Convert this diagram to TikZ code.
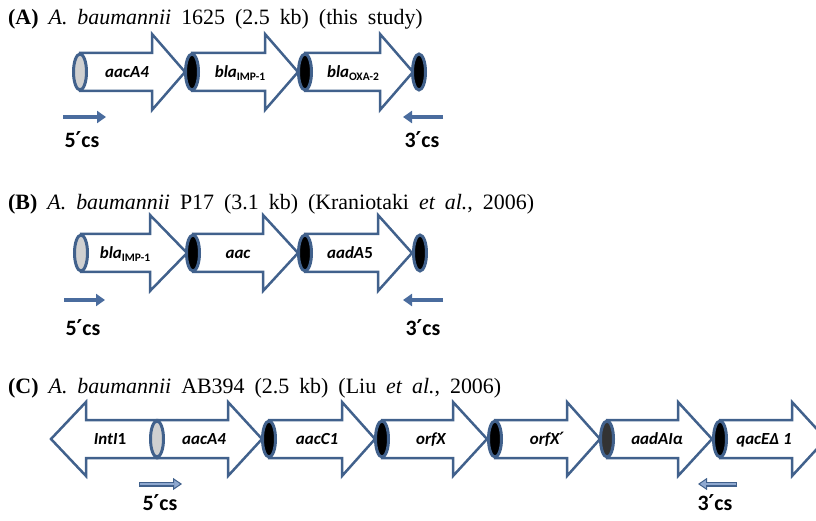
\documentclass[tikz,border=0pt]{standalone}
\usepackage{fontspec}
\setmainfont{Liberation Serif}
\newfontfamily\genefont{Carlito}
\newfontfamily\primefont{DejaVu Sans}
\usetikzlibrary{shapes.geometric,arrows.meta}

\definecolor{outline}{HTML}{41618C}
\definecolor{primerblue}{HTML}{4A6C9E}
\definecolor{primerlight}{HTML}{8FA9D0}
\definecolor{casgray}{HTML}{D0D0D0}
\definecolor{casdark}{HTML}{333333}

\newcommand{\titlefont}{\fontsize{22}{26}\selectfont\spaceskip 10bp\relax}
\newcommand{\genesub}[1]{\raisebox{-3bp}{\upshape\fontsize{11.5}{12}\selectfont #1}}
\newcommand{\pr}{{\primefont ′}}

\tikzset{
  gene/.style={draw=outline,line width=2.5bp,fill=white,line join=miter},
  cassette/.style={ellipse,draw=outline,line width=3bp,minimum width=13bp,minimum height=36bp,inner sep=0pt},
  genelabel/.style={anchor=base,inner sep=0pt,font=\genefont\bfseries\itshape\fontsize{17}{19}\selectfont},
  cslabel/.style={anchor=base,inner sep=0pt,font=\genefont\bfseries\fontsize{22}{24}\selectfont},
  title/.style={anchor=base west,inner sep=0pt,font=\titlefont},
  primer/.style={primerblue,line width=4.5bp,-{Triangle[length=9bp,width=12bp]}},
  primerC/.style={outline,line width=5bp,-{Triangle[length=9bp,width=12bp,fill=primerlight,line width=1bp]},
    postaction={draw=primerlight,line width=2.5bp,shorten >=8bp,shorten <=1.2bp,-}},
}

\begin{document}
\begin{tikzpicture}[x=1bp,y=-1bp]
\useasboundingbox (0,0) rectangle (816,521);

% (A) A. baumannii 1625
\node[title] (titleA) at (8,25) {\textbf{(A)} \textit{A. baumannii} 1625 (2.5 kb) (this study)};
\draw[gene] (80,53) -- (152,53) -- (152,34) -- (185,72) -- (152,110) -- (152,91) -- (80,91) -- cycle;
\draw[gene] (192,53) -- (265,53) -- (265,34) -- (298,72) -- (265,110) -- (265,91) -- (192,91) -- cycle;
\draw[gene] (305,53) -- (380,53) -- (380,34) -- (413,72) -- (380,110) -- (380,91) -- (305,91) -- cycle;
\node[cassette,fill=casgray] (A0) at (80,72) {};
\node[cassette,fill=black] (A1) at (192,72) {};
\node[cassette,fill=black] (A2) at (305,72) {};
\node[cassette,fill=black] (A3) at (419,72) {};
\node[genelabel] (aacA4A) at (127,77.5) {aacA4};
\node[genelabel] (impA) at (240,77.5) {bla\genesub{IMP-1}};
\node[genelabel] (oxaA) at (353,77.5) {bla\genesub{OXA-2}};
\coordinate (p5A) at (63,117);
\coordinate (p5Aend) at (106,117);
\coordinate (p3A) at (443,117);
\coordinate (p3Aend) at (403,117);
\draw[primer] (p5A) -- (p5Aend);
\draw[primer] (p3A) -- (p3Aend);
\node[cslabel] (cs5A) at (82,148) {5\pr cs};
\node[cslabel] (cs3A) at (422,148) {3\pr cs};

% (B) A. baumannii P17
\node[title] (titleB) at (8,210) {\textbf{(B)} \textit{A. baumannii} P17 (3.1 kb) (Kraniotaki \textit{et al.}, 2006)};
\draw[gene] (81,234) -- (150,234) -- (150,215) -- (187,253) -- (150,291) -- (150,272) -- (81,272) -- cycle;
\draw[gene] (193,234) -- (263,234) -- (263,215) -- (298,253) -- (263,291) -- (263,272) -- (193,272) -- cycle;
\draw[gene] (305,234) -- (378,234) -- (378,215) -- (412,253) -- (378,291) -- (378,272) -- (305,272) -- cycle;
\node[cassette,fill=casgray] (B0) at (81,253) {};
\node[cassette,fill=black] (B1) at (193,253) {};
\node[cassette,fill=black] (B2) at (305,253) {};
\node[cassette,fill=black] (B3) at (420,253) {};
\node[genelabel] (impB) at (125,258.5) {bla\genesub{IMP-1}};
\node[genelabel] (aacB) at (238,258.5) {aac};
\node[genelabel] (aadB) at (350,258.5) {aadA\upshape 5};
\coordinate (p5B) at (64,300);
\coordinate (p5Bend) at (105,300);
\coordinate (p3B) at (443,300);
\coordinate (p3Bend) at (403,300);
\draw[primer] (p5B) -- (p5Bend);
\draw[primer] (p3B) -- (p3Bend);
\node[cslabel] (cs5B) at (83,335) {5\pr cs};
\node[cslabel] (cs3B) at (423,335) {3\pr cs};

% (C) A. baumannii AB394
\node[title] (titleC) at (8,393) {\textbf{(C)} \textit{A. baumannii} AB394 (2.5 kb) (Liu \textit{et al.}, 2006)};
\draw[gene] (157,420) -- (86,420) -- (86,402) -- (51,439) -- (86,476) -- (86,458) -- (157,458) -- cycle;
\draw[gene] (157,420) -- (228,420) -- (228,402) -- (262,439) -- (228,476) -- (228,458) -- (157,458) -- cycle;
\draw[gene] (269,420) -- (342,420) -- (342,402) -- (375,439) -- (342,476) -- (342,458) -- (269,458) -- cycle;
\draw[gene] (382,420) -- (453,420) -- (453,402) -- (487,439) -- (453,476) -- (453,458) -- (382,458) -- cycle;
\draw[gene] (495,420) -- (567,420) -- (567,402) -- (600,439) -- (567,476) -- (567,458) -- (495,458) -- cycle;
\draw[gene] (607,420) -- (678,420) -- (678,402) -- (712,439) -- (678,476) -- (678,458) -- (607,458) -- cycle;
\draw[gene] (720,420) -- (792,420) -- (792,402) -- (826,439) -- (792,476) -- (792,458) -- (720,458) -- cycle;
\node[cassette,fill=casgray] (C0) at (157,439) {};
\node[cassette,fill=black] (C1) at (269,439) {};
\node[cassette,fill=black] (C2) at (382,439) {};
\node[cassette,fill=black] (C3) at (495,439) {};
\node[cassette,fill=casdark] (C4) at (607,439) {};
\node[cassette,fill=black] (C5) at (720,439) {};
\node[genelabel] (intC) at (110,444.5) {IntI\upshape 1};
\node[genelabel] (aacA4C) at (204,444.5) {aacA4};
\node[genelabel] (aacC1C) at (317,444.5) {aacC1};
\node[genelabel] (orfXC) at (431,444.5) {orfX};
\node[genelabel] (orfXpC) at (547,444.5) {orfX\pr};
\node[genelabel] (aadC) at (657,444.5) {aadAIα};
\node[genelabel] (qacC) at (764,444.5) {qacEΔ 1};
\coordinate (p5C) at (139,484);
\coordinate (p5Cend) at (182,484);
\coordinate (p3C) at (737,484);
\coordinate (p3Cend) at (698,484);
\draw[primerC] (p5C) -- (p5Cend);
\draw[primerC] (p3C) -- (p3Cend);
\node[cslabel] (cs5C) at (160,510) {5\pr cs};
\node[cslabel] (cs3C) at (715,510) {3\pr cs};

\end{tikzpicture}
\end{document}
